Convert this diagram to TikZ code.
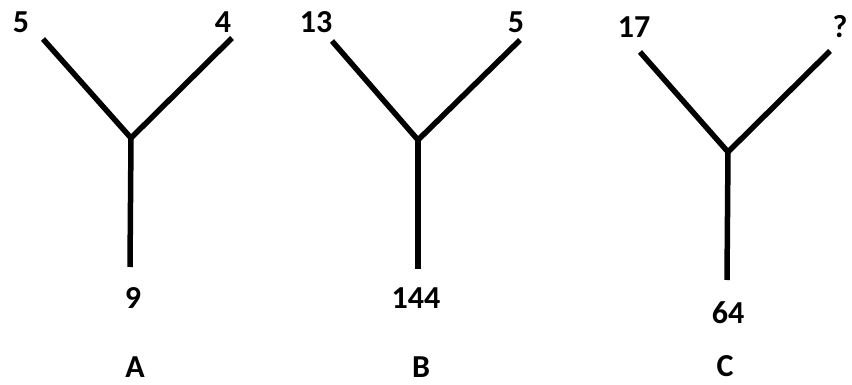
\documentclass[tikz,border=0pt]{standalone}
\usepackage{fontspec}
\setmainfont{Carlito}
\begin{document}
\begin{tikzpicture}[x=1pt,y=-1pt,
  arm/.style={line width=5.5pt,line cap=butt,line join=miter},
  lbl/.style={font=\fontsize{32}{34}\selectfont\bfseries,inner sep=0pt}]
\useasboundingbox (0,0) rectangle (852,385);
% A
\coordinate (aL) at (43,39);
\coordinate (aR) at (232,38);
\coordinate (aJ) at (131,138);
\coordinate (aB) at (130,267);
\draw[arm] (aL) -- (aJ) -- (aR);
\draw[arm] (aJ) -- (aB);
\node[lbl] (a1) at (21,22) {5};
\node[lbl] (a2) at (223,22) {4};
\node[lbl] (a3) at (133,298) {9};
\node[lbl] (a4) at (135,367) {A};
% B
\coordinate (bL) at (332,41);
\coordinate (bR) at (520,40);
\coordinate (bJ) at (418,140);
\coordinate (bB) at (418,269);
\draw[arm] (bL) -- (bJ) -- (bR);
\draw[arm] (bJ) -- (bB);
\node[lbl] (b1) at (316,22) {13};
\node[lbl] (b2) at (516,22) {5};
\node[lbl] (b3) at (416,298) {144};
\node[lbl] (b4) at (421,367) {B};
% C
\coordinate (cL) at (640,52);
\coordinate (cR) at (830,51);
\coordinate (cJ) at (728,152);
\coordinate (cB) at (727,280);
\draw[arm] (cL) -- (cJ) -- (cR);
\draw[arm] (cJ) -- (cB);
\node[lbl] (c1) at (634,27) {17};
\node[lbl] (c2) at (840,27) {?};
\node[lbl] (c3) at (728,313) {64};
\node[lbl] (c4) at (725,366) {C};
\end{tikzpicture}
\end{document}
